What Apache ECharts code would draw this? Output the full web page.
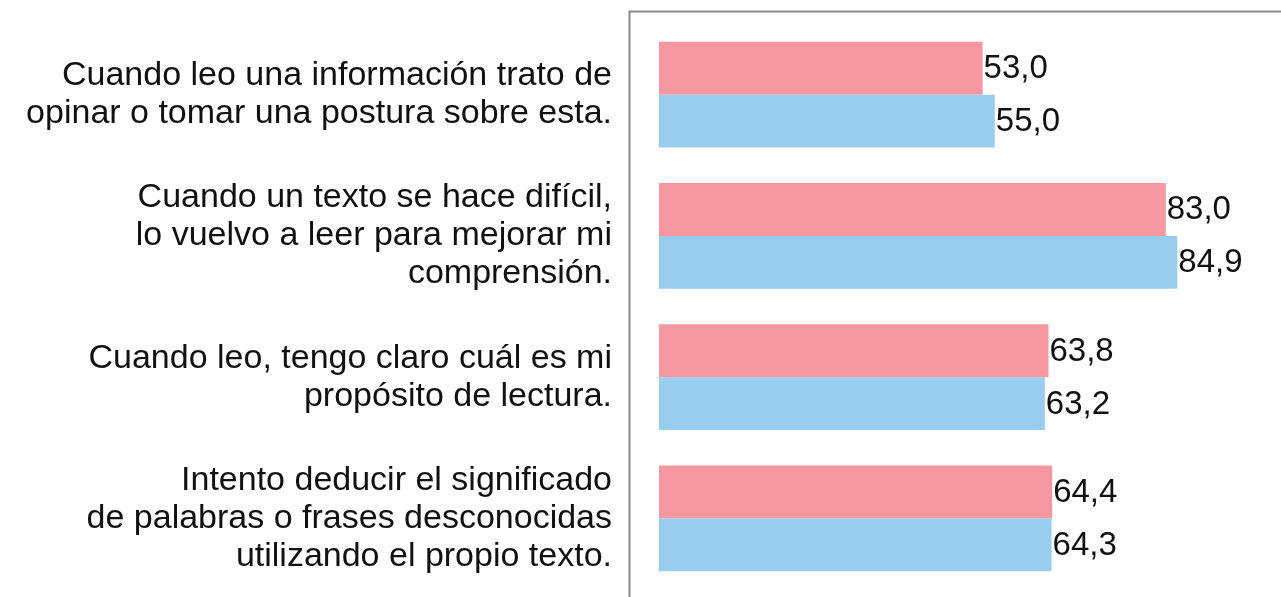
<!DOCTYPE html>
<html>
<head>
<meta charset="utf-8">
<script src="https://cdn.jsdelivr.net/npm/echarts@6/dist/echarts.min.js"></script>
<style>
html,body{margin:0;padding:0;background:#fff;}
#main{width:1281px;height:597px;}
</style>
</head>
<body>
<div id="main"></div>
<script>
var categories = [
  "Cuando leo una información trato de\nopinar o tomar una postura sobre esta.",
  "Cuando un texto se hace difícil,\nlo vuelvo a leer para mejorar mi\ncomprensión.",
  "Cuando leo, tengo claro cuál es mi\npropósito de lectura.",
  "Intento deducir el significado\nde palabras o frases desconocidas\nutilizando el propio texto."
];
var seriesPink = [53.0, 83.0, 63.8, 64.4];
var seriesBlue = [55.0, 84.9, 63.2, 64.3];

var FONT = '"Liberation Sans", Arial, sans-serif';
var chart = echarts.init(document.getElementById('main'));
function fmt(p){ return p.value.toFixed(1).replace('.', ','); }
chart.setOption({
  animation: false,
  backgroundColor: '#ffffff',
  grid: { left: 659, top: 24, width: 610.5, height: 565, containLabel: false },
  xAxis: {
    type: 'value', min: 0, max: 100, interval: 10,
    show: false
  },
  yAxis: {
    type: 'category', data: categories, inverse: true,
    axisLine: { show: false },
    axisTick: { show: false },
    axisLabel: {
      margin: 47, fontFamily: FONT, fontSize: 34, lineHeight: 38,
      color: '#111', align: 'right'
    }
  },
  series: [
    {
      type: 'bar', data: seriesPink, barGap: '0%', barCategoryGap: '25%',
      itemStyle: { color: '#F597A0' },
      label: { show: true, position: 'right', distance: 1, offset: [0, 1], formatter: fmt,
        fontFamily: FONT, fontSize: 33, color: '#111' }
    },
    {
      type: 'bar', data: seriesBlue, barGap: '0%', barCategoryGap: '25%',
      itemStyle: { color: '#98CDEE' },
      label: { show: true, position: 'right', distance: 1, offset: [0, 1], formatter: fmt,
        fontFamily: FONT, fontSize: 33, color: '#111' }
    }
  ],
  graphic: [{
    type: 'polyline',
    shape: { points: [[629.5, 600], [629.5, 11.5], [1290, 11.5]] },
    style: { stroke: '#8a8a8a', lineWidth: 2, fill: null }
  }]
});
</script>
</body>
</html>
